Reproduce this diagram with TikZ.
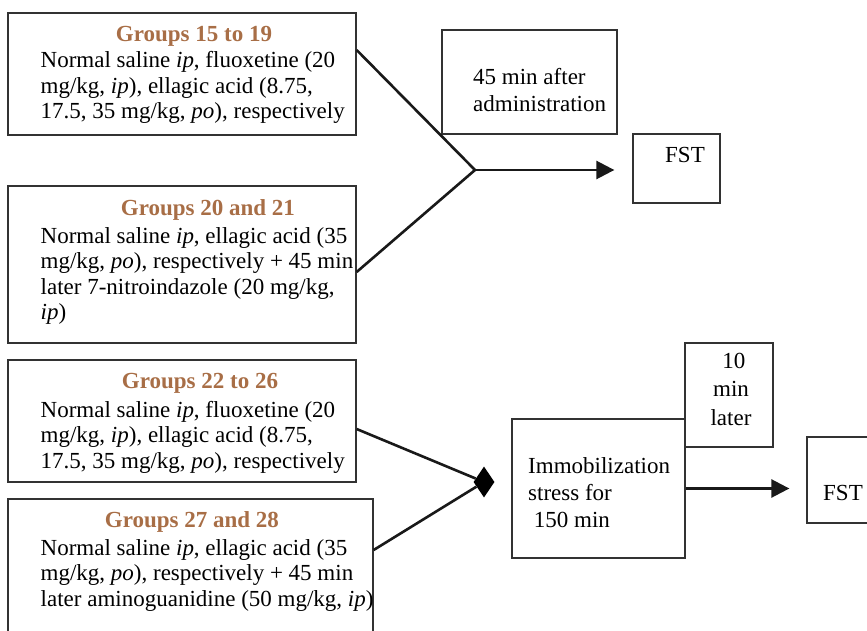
\documentclass[tikz,border=0pt]{standalone}
\usepackage{fontspec}
\setmainfont{Liberation Serif}
\usepackage{tikz}
\usetikzlibrary{arrows.meta}
\usetikzlibrary{positioning}
\usetikzlibrary{shapes.geometric}

\definecolor{groupbrown}{RGB}{168,110,70}
\definecolor{boxgray}{RGB}{50,50,50}

\begin{document}
\begin{tikzpicture}[x=1pt,y=-1pt,>={Triangle[length=18pt,width=18pt]},
  box/.style={rectangle,draw=boxgray,line width=1.3pt,inner sep=0pt},
  title/.style={anchor=base,inner sep=0pt,text=groupbrown,font=\fontsize{23}{25.5}\selectfont\bfseries},
  body/.style={anchor=base west,inner sep=0pt,align=left,font=\fontsize{23}{25.5}\selectfont},
  wide/.style={font=\fontsize{23}{27}\selectfont},
  link/.style={line width=2.6pt,draw=black!90}]

  \useasboundingbox (0,0) rectangle (867,631);
  \clip (0,0) rectangle (867,631);

  \node[box,minimum width=348pt,minimum height=122pt] (g1) at (182,74) {};
  \node[box,minimum width=348pt,minimum height=157pt] (g2) at (182,264.5) {};
  \node[box,minimum width=348pt,minimum height=122pt] (g3) at (182,421) {};
  \node[box,minimum width=365pt,minimum height=161pt] (g4) at (190.5,579.5) {};
  \node[box,minimum width=175pt,minimum height=104pt] (wait1) at (529.5,82) {};
  \node[box,minimum width=87pt,minimum height=69pt] (fst1) at (676.5,168.5) {};
  \node[box,minimum width=173pt,minimum height=139pt] (stress) at (598.5,488.5) {};
  \node[box,minimum width=88pt,minimum height=104pt] (wait2) at (729,395) {};
  \node[box,minimum width=93pt,minimum height=86pt] (fst2) at (853.5,480) {};

  % base of a body node = baseline of its last line
  \node[title] (t1) at (194,42) {Groups 15 to 19};
  \node[body] (b1) at (40.5,119) {Normal saline \textit{ip}, fluoxetine (20\\
    mg/kg, \textit{ip}), ellagic acid (8.75,\\
    17.5, 35 mg/kg, \textit{po}), respectively};
  \node[title] (t2) at (208,215) {Groups 20 and 21};
  \node[body] (b2) at (40.5,319.5) {Normal saline \textit{ip}, ellagic acid (35\\
    mg/kg, \textit{po}), respectively + 45 min\\
    later 7-nitroindazole (20 mg/kg,\\
    \textit{ip})};
  \node[title] (t3) at (200,388) {Groups 22 to 26};
  \node[body] (b3) at (40.5,468) {Normal saline \textit{ip}, fluoxetine (20\\
    mg/kg, \textit{ip}), ellagic acid (8.75,\\
    17.5, 35 mg/kg, \textit{po}), respectively};
  \node[title] (t4) at (192,527) {Groups 27 and 28};
  \node[body] (b4) at (40.5,606) {Normal saline \textit{ip}, ellagic acid (35\\
    mg/kg, \textit{po}), respectively + 45 min\\
    later aminoguanidine (50 mg/kg, \textit{ip})};

  \node[body,wide] (w1) at (473,112) {45 min after\\administration};
  \node[body] (f1) at (665,163) {FST};
  \node[body,wide] (s1) at (528,527) {Immobilization\\stress for\\\ 150 min};
  \node[body,anchor=base,align=center,font=\fontsize{23}{28.5}\selectfont] (w2) at (731,425) {\ 10\\min\\later};
  \node[body] (f2) at (823,500) {FST};

  \coordinate (join1) at (475,170);
  \node[diamond,fill=black,inner sep=0pt,minimum width=21pt,minimum height=31pt] (merge) at (484,482) {};

  \draw[link] ([yshift=24pt]g1.east) -- (join1);
  \draw[link] ([yshift=-7.5pt]g2.east) -- (join1);
  \draw[link,->,shorten >=18pt] (join1) -- (join1 -| fst1.west);
  \draw[link] ([yshift=-8pt]g3.east) -- (merge);
  \draw[link] ([yshift=29.5pt]g4.east) -- (merge);
  \draw[link,->,shorten >=17pt] (stress.east) -- (stress.east -| fst2.west);
\end{tikzpicture}
\end{document}
